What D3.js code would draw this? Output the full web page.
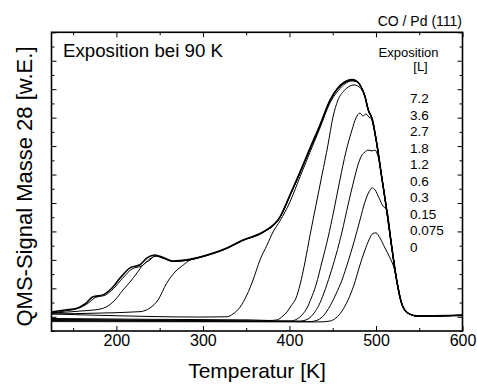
<!DOCTYPE html>
<html><head><meta charset="utf-8">
<script src="https://cdn.jsdelivr.net/npm/d3@7"></script>
<style>
body{margin:0;background:#fff}
svg{display:block}
text{font-family:"Liberation Sans",Arial,Helvetica,sans-serif;fill:#000}
</style>
</head><body>
<svg id="chart" width="477" height="387"></svg>
<script>
// ---- data (temperature in K, QMS signal in arbitrary units) ----
const exposures = ["7.2","3.6","2.7","1.8","1.2","0.6","0.3","0.15","0.075","0"];
const xMajorTicks = [200,300,400,500,600];
const xMinorTicks = [150,250,350,450,550];
const yMajorTicks = [0,1,2,3,4,5,6,7,8,9,10];
const yMinorTicks = [-0.5,0.5,1.5,2.5,3.5,4.5,5.5,6.5,7.5,8.5,9.5];

// common high-temperature desorption edge (all exposures coincide here)
const edge = [[481.5,8.15],[487.3,7.74],[491.1,7.27],[495.1,6.99],[500.8,6.11],[506.6,4.92],[512.4,3.75],[518.2,2.46],[523.9,1.29],[529.7,0.47],[537.4,0.12],[547.1,0.03],[600,0.05]];

const exp72 = [[125,0.17],[140.6,0.24],[154.5,0.30],[163.7,0.45],[173,0.70],[184.5,0.77],[194.9,1.01],[204.2,1.36],[215.7,1.72],[227.3,1.83],[235.4,2.07],[244.6,2.17],[253.9,2.08],[265.4,1.96],[281.6,2.00],[304.7,2.17],[327.8,2.42],[346.3,2.70],[369.4,2.98],[389.1,3.51],[400.6,4.28],[412.2,5.09],[423.8,5.93],[435.3,6.74],[446.9,7.62],[456.1,8.05],[464.2,8.26],[472.3,8.34],[476.9,8.30]];
const exp36 = [[125,0.13],[140,0.20],[156,0.30],[166,0.45],[176,0.68],[187,0.76],[197,1.00],[207,1.35],[218,1.68],[230,1.80],[238,2.02],[246.5,2.13],[255,2.05],[266,1.94],[282,1.98],[304.7,2.15],[327.8,2.40],[346.3,2.68],[369.4,2.96],[389.1,3.49],[400.6,4.25],[412.2,5.05],[423.8,5.90],[435.3,6.71],[446.9,7.58],[456.1,8.02],[464.2,8.23],[472.3,8.31],[476.9,8.28]];
const exp27 = [[125,0.13],[157.9,0.20],[181,0.27],[189.1,0.36],[198.4,0.59],[207.6,0.94],[215.7,1.22],[223.8,1.54],[230.7,1.82],[238.8,2.00],[244.6,2.14],[253.9,2.06],[265.4,1.95],[281.6,1.99],[304.7,2.16],[327.8,2.41],[346.3,2.69],[369.4,2.97],[389.1,3.50],[400.6,4.26],[412.2,5.07],[423.8,5.91],[435.3,6.72],[446.9,7.60],[456.1,8.03],[464.2,8.24],[472.3,8.32],[476.9,8.29]];
const exp18 = [[125,0.10],[181,0.13],[227.3,0.18],[238.8,0.31],[248.1,0.59],[258.1,1.18],[267.6,1.57],[277.3,1.82],[285.1,2.00],[296.6,2.10],[304.7,2.17],[327.8,2.41],[346.3,2.69],[369.4,2.97],[389.1,3.49],[400.6,4.26],[412.2,5.06],[423.8,5.91],[435.3,6.72],[446.9,7.59],[456.1,8.03],[464.2,8.24],[472.3,8.31],[476.9,8.28]];
const exp12 = [[125,0.10],[181,0.05],[238.8,0.01],[296.6,-0.01],[327.8,0.00],[334.8,0.10],[342.9,0.34],[350.9,0.77],[357.9,1.29],[366,2.00],[374.1,2.52],[381,2.98],[389.1,3.37],[400.6,4.04],[412.2,4.92],[423.8,5.79],[435.3,6.64],[446.9,7.52],[456.1,7.94],[464.2,8.19],[472.3,8.29],[476.9,8.27]];
const exp06 = [[125,-0.06],[238.8,-0.09],[354.4,-0.11],[377.5,-0.13],[385.6,-0.11],[392.5,0.03],[397.2,0.17],[401.8,0.38],[407.6,0.66],[412.2,1.12],[418,1.93],[423.8,2.87],[430.7,3.93],[437.6,4.98],[444.5,6.04],[450.3,7.02],[456.1,7.62],[463,7.94],[469.9,8.11],[474.5,8.15],[479.1,8.11],[483.7,7.97]];
const exp03 = [[125,-0.09],[296.6,-0.13],[400.6,-0.15],[408.7,-0.08],[415.6,0.10],[420.3,0.31],[424.9,0.63],[430.7,1.12],[437.6,1.93],[444.5,2.77],[451.4,3.75],[458.3,4.81],[465.2,5.79],[472.3,6.57],[476.9,6.99],[481.5,7.16],[485,7.06],[488.5,7.13],[493.1,6.99]];
const exp015 = [[125,-0.11],[412.2,-0.15],[421.4,-0.08],[428.4,0.13],[434.1,0.41],[439.9,0.84],[446.9,1.47],[453.8,2.17],[460.7,2.98],[467.7,3.93],[474.6,4.81],[479.2,5.34],[483.9,5.69],[487.3,5.79],[490.8,5.86],[495.4,5.83],[498.9,5.86],[502.3,5.65],[503.5,5.51]];
const exp0075 = [[125,-0.13],[423.8,-0.17],[433,-0.11],[439.9,0.06],[446.9,0.38],[453.8,0.80],[460.7,1.29],[467.7,1.93],[474.6,2.63],[481.5,3.40],[487.3,4.04],[491.9,4.39],[495.4,4.53],[498.9,4.46],[503.5,4.18],[508.1,3.89]];
const exp0 = [[125,-0.17],[435.3,-0.18],[446.9,-0.15],[453.8,-0.04],[460.7,0.20],[467.7,0.59],[474.6,1.12],[481.5,1.82],[487.3,2.35],[491.9,2.70],[496.5,2.93],[500,2.95],[504.6,2.77],[510.4,2.42],[516.2,2.07],[520.8,1.72]];

const seriesList = [exp72,exp36,exp27,exp18,exp12,exp06,exp03,exp015,exp0075,exp0];

// ---- layout ----
const svg = d3.select("#chart");
const L = 51.5, R = 462.5, T = 32.3, B = 331;
const x = d3.scaleLinear().domain([125,600]).range([L,R]);
const y = d3.scaleLinear().domain([-0.5,10]).range([B,T]);

const withEdge = pts => pts.concat(edge.filter(d => d[0] > pts[pts.length-1][0]));

const line = d3.line().x(d=>x(d[0])).y(d=>y(d[1])).curve(d3.curveMonotoneX);

const plot = svg.append("g");
plot.append("clipPath").attr("id","clip").append("rect").attr("x",L).attr("y",T).attr("width",R-L).attr("height",B-T);
const cg = plot.append("g").attr("clip-path","url(#clip)");
seriesList.slice().reverse().forEach((s,i)=>{
  cg.append("path").attr("d", line(withEdge(s)))
    .attr("fill","none").attr("stroke","#000")
    .attr("stroke-width", s===exp72 ? 1.6 : 1.0)
    .attr("stroke-linejoin","round");
});

// ---- axes (inward ticks) ----
function ax(gen, tr, vals, size, labels){
  const g = svg.append("g").attr("transform",tr)
    .call(gen.tickValues(vals).tickSize(size).tickPadding(4).tickFormat(labels? d3.format("d") : ""));
  g.select(".domain").remove();
  g.selectAll(".tick line").attr("stroke","#000").attr("stroke-width",1);
  g.selectAll("text").attr("font-size",16).attr("font-family",'"Liberation Sans",Arial,sans-serif').attr("fill","#000");
  return g;
}
ax(d3.axisBottom(x), `translate(0,${B})`, xMajorTicks, -5, true)
  .selectAll("text").attr("y",4);
ax(d3.axisBottom(x), `translate(0,${B})`, xMinorTicks, -3, false);
ax(d3.axisTop(x), `translate(0,${T})`, xMajorTicks, -5, false);
ax(d3.axisTop(x), `translate(0,${T})`, xMinorTicks, -3, false);
ax(d3.axisLeft(y), `translate(${L},0)`, yMajorTicks, -5, false);
ax(d3.axisLeft(y), `translate(${L},0)`, yMinorTicks, -3, false);
ax(d3.axisRight(y), `translate(${R},0)`, yMajorTicks, -5, false);
ax(d3.axisRight(y), `translate(${R},0)`, yMinorTicks, -3, false);

svg.append("rect").attr("x",L).attr("y",T).attr("width",R-L).attr("height",B-T)
  .attr("fill","none").attr("stroke","#000").attr("stroke-width",1.6);

// ---- texts ----
svg.append("text").attr("x",(L+R)/2).attr("y",378).attr("text-anchor","middle")
  .attr("font-size",21).text("Temperatur [K]");
svg.append("text").attr("transform",`translate(32,${(40+333)/2}) rotate(-90)`)
  .attr("text-anchor","middle").attr("font-size",22).text("QMS-Signal Masse 28 [w.E.]");
svg.append("text").attr("x",63).attr("y",56.5).attr("font-size",18.7).text("Exposition bei 90 K");
svg.append("text").attr("x",462).attr("y",26).attr("text-anchor","end").attr("font-size",14).text("CO / Pd (111)");
svg.append("text").attr("x",408.5).attr("y",56.5).attr("text-anchor","middle").attr("font-size",13).text("Exposition");
svg.append("text").attr("x",420.5).attr("y",70.5).attr("text-anchor","middle").attr("font-size",13).text("[L]");
svg.append("g").selectAll("text").data(exposures).join("text")
  .attr("x",410).attr("y",(d,i)=>103 + i*16.5).attr("font-size",13.5).text(d=>d);
</script>
</body></html>
